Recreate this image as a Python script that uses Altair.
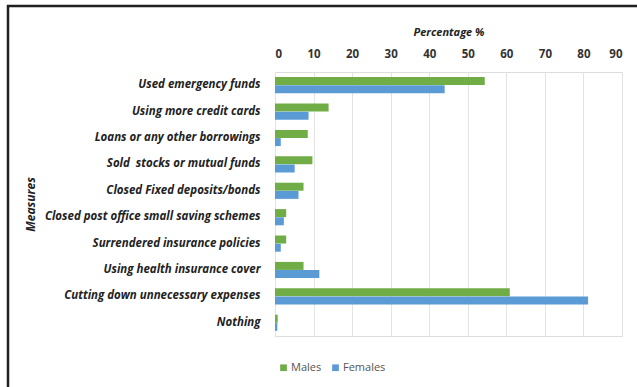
import altair as alt
import pandas as pd

measures = [
    "Used emergency funds",
    "Using more credit cards",
    "Loans or any other borrowings",
    "Sold\u00a0 stocks or mutual funds",
    "Closed Fixed deposits/bonds",
    "Closed post office small saving schemes",
    "Surrendered insurance policies",
    "Using health insurance cover",
    "Cutting down unnecessary expenses",
    "Nothing",
]
males = [54.4, 13.9, 8.5, 9.7, 7.4, 2.9, 2.9, 7.4, 60.9, 0.7]
females = [44.0, 8.7, 1.5, 5.1, 6.1, 2.3, 1.5, 11.5, 81.2, 0.6]
groups = ["Males", "Females"]
colors = ["#70AD47", "#5B9BD5"]
x_ticks = [0, 10, 20, 30, 40, 50, 60, 70, 80, 90]

rows = []
for m, a, b in zip(measures, males, females):
    rows.append({"Measure": m, "Sex": groups[0], "Value": a})
    rows.append({"Measure": m, "Sex": groups[1], "Value": b})
df = pd.DataFrame(rows)

FONT = "Open Sans"

bars = alt.Chart(df).mark_bar(size=8).encode(
    y=alt.Y(
        "Measure:N",
        sort=measures,
        scale=alt.Scale(paddingInner=0.38, paddingOuter=0.19),
        axis=alt.Axis(
            title="Measures",
            titleFont=FONT,
            titleFontStyle="italic",
            titleFontWeight="bold",
            titleFontSize=12,
            titleColor="#222222",
            titleX=-245,
            titleY=132,
            titleAngle=270,
            titleAlign="center",
            titleBaseline="middle",
            labelFont=FONT,
            labelFontStyle="italic",
            labelFontWeight="bold",
            labelFontSize=11.5,
            labelColor="#222222",
            labelPadding=15,
            labelLimit=400,
            ticks=False,
            domain=False,
            grid=False,
        ),
    ),
    yOffset=alt.YOffset("Sex:N", sort=groups),
    x=alt.X(
        "Value:Q",
        scale=alt.Scale(domain=[0, 90], nice=False),
        axis=alt.Axis(
            orient="top",
            title="Percentage %",
            titleFont=FONT,
            titleFontStyle="italic",
            titleFontWeight="bold",
            titleFontSize=11,
            titleColor="#222222",
            titlePadding=11,
            values=x_ticks,
            labelFont=FONT,
            labelFontWeight="bold",
            labelFontSize=11.5,
            labelColor="#333333",
            labelPadding=13,
            ticks=False,
            tickSize=0,
            domain=False,
            grid=True,
            gridColor="#e3e3e3",
            gridWidth=1,
        ),
    ),
    color=alt.Color(
        "Sex:N",
        sort=groups,
        scale=alt.Scale(domain=groups, range=colors),
        legend=alt.Legend(
            title=None,
            orient="none",
            direction="horizontal",
            legendX=3,
            legendY=290,
            symbolType="square",
            symbolSize=45,
            symbolStrokeWidth=0,
            labelFont=FONT,
            labelFontSize=11,
            labelColor="#555555",
            labelOffset=2,
            columnPadding=8,
        ),
    ),
)

frame_df = pd.DataFrame({"k": [0]})
left_line = alt.Chart(frame_df).mark_rule(color="#231f20", strokeWidth=2.5).encode(
    x=alt.value(-267), y=alt.value(-67), y2=alt.value(320)
)
top_line = alt.Chart(frame_df).mark_rule(color="#231f20", strokeWidth=2.5).encode(
    x=alt.value(-268), x2=alt.value(370), y=alt.value(-66)
)

chart = alt.layer(bars, left_line, top_line).properties(
    width=347,
    height=264,
    autosize=alt.AutoSizeParams(type="none"),
    padding={"left": 275, "top": 72, "right": 15, "bottom": 51},
).configure_view(stroke=None).configure(background="white")

chart.save("out.html", embed_options={"renderer": "svg", "actions": False})
